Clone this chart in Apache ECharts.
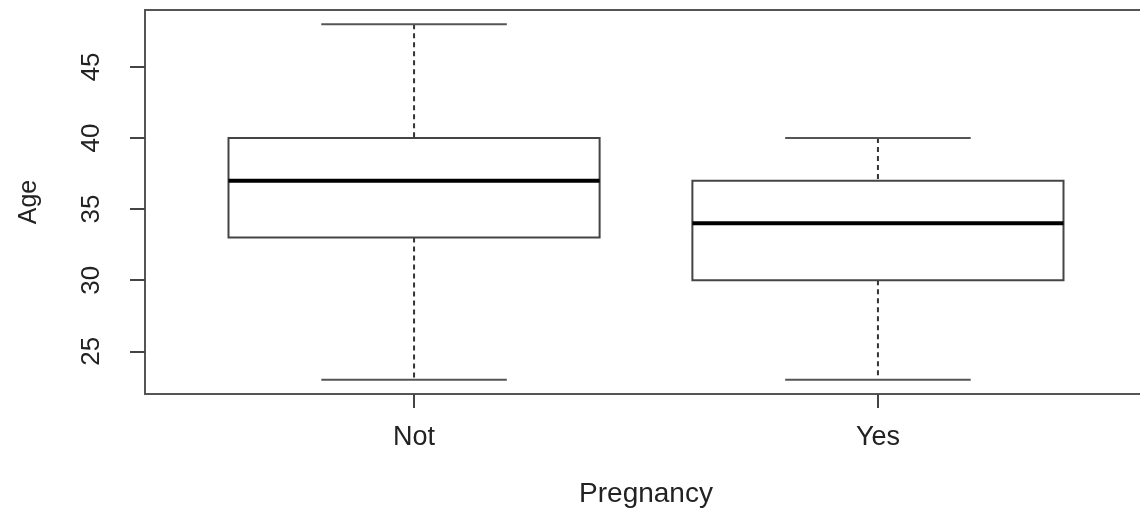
<!DOCTYPE html>
<html>
<head>
<meta charset="utf-8">
<script src="https://cdn.jsdelivr.net/npm/echarts@6/dist/echarts.min.js"></script>
<style>
html,body{margin:0;padding:0;background:#fff;}
#main{width:1140px;height:508px;}
</style>
</head>
<body>
<div id="main"></div>
<script>
// Data
var categories = ['Not', 'Yes'];
var lowerWhisker = [23, 23];
var q1 = [33, 30];
var median = [37, 34];
var q3 = [40, 37];
var upperWhisker = [48, 40];
var yTicks = [25, 30, 35, 40, 45];
var xTicks = [1, 2];

var data = categories.map(function (c, i) {
  return [i + 1, lowerWhisker[i], q1[i], median[i], q3[i], upperWhisker[i]];
});

var FONT = 'Liberation Sans';
var chart = echarts.init(document.getElementById('main'), null, {renderer: 'canvas'});

function renderItem(params, api) {
  var x = api.value(0);
  var lo = api.coord([x, api.value(1)]);
  var b1 = api.coord([x, api.value(2)]);
  var md = api.coord([x, api.value(3)]);
  var b3 = api.coord([x, api.value(4)]);
  var hi = api.coord([x, api.value(5)]);
  var boxW = api.size([0.8, 0])[0];
  var capW = api.size([0.4, 0])[0];
  var cx = lo[0];
  var dash = {stroke: '#333', lineWidth: 2, lineDash: [5, 4]};
  var cap = {stroke: '#555', lineWidth: 2};
  return {
    type: 'group',
    children: [
      {type: 'line', shape: {x1: cx, y1: hi[1], x2: cx, y2: b3[1]}, style: dash},
      {type: 'line', shape: {x1: cx, y1: b1[1], x2: cx, y2: lo[1]}, style: dash},
      {type: 'line', shape: {x1: cx - capW / 2, y1: hi[1], x2: cx + capW / 2, y2: hi[1]}, style: cap},
      {type: 'line', shape: {x1: cx - capW / 2, y1: lo[1], x2: cx + capW / 2, y2: lo[1]}, style: cap},
      {type: 'rect', shape: {x: cx - boxW / 2, y: b3[1], width: boxW, height: b1[1] - b3[1]},
        style: {fill: '#fff', stroke: '#444', lineWidth: 2}},
      {type: 'line', shape: {x1: cx - boxW / 2, y1: md[1], x2: cx + boxW / 2, y2: md[1]},
        style: {stroke: '#000', lineWidth: 4}}
    ]
  };
}

chart.setOption({
  animation: false,
  backgroundColor: '#fff',
  grid: {left: 145, top: 10, right: -7, bottom: 114, show: true,
    outerBoundsMode: 'none', containLabel: false,
    borderColor: '#555', borderWidth: 2, backgroundColor: 'transparent'},
  xAxis: {
    type: 'value', min: 0.42, max: 2.58,
    splitLine: {show: false},
    axisLine: {show: false},
    axisTick: {show: true, length: 14, customValues: xTicks, lineStyle: {color: '#444', width: 2}},
    axisLabel: {customValues: xTicks, margin: 30, fontFamily: FONT, fontSize: 27, color: '#222',
      formatter: function (v) { return categories[Math.round(v) - 1] || ''; }},
    name: 'Pregnancy', nameLocation: 'middle', nameGap: 86,
    nameTextStyle: {fontFamily: FONT, fontSize: 28, color: '#222'}
  },
  yAxis: {
    type: 'value', min: 22, max: 49,
    splitLine: {show: false},
    axisLine: {show: false},
    axisTick: {show: true, length: 15, customValues: yTicks, lineStyle: {color: '#444', width: 2}},
    axisLabel: {customValues: yTicks, rotate: 90, margin: 40, fontFamily: FONT, fontSize: 26, color: '#222'},
    name: 'Age', nameLocation: 'middle', nameRotate: 90, nameGap: 103,
    nameTextStyle: {fontFamily: FONT, fontSize: 25, color: '#222'}
  },
  series: [{
    type: 'custom',
    renderItem: renderItem,
    encode: {x: 0, y: [1, 2, 3, 4, 5]},
    data: data,
    clip: false
  }]
});
</script>
</body>
</html>
